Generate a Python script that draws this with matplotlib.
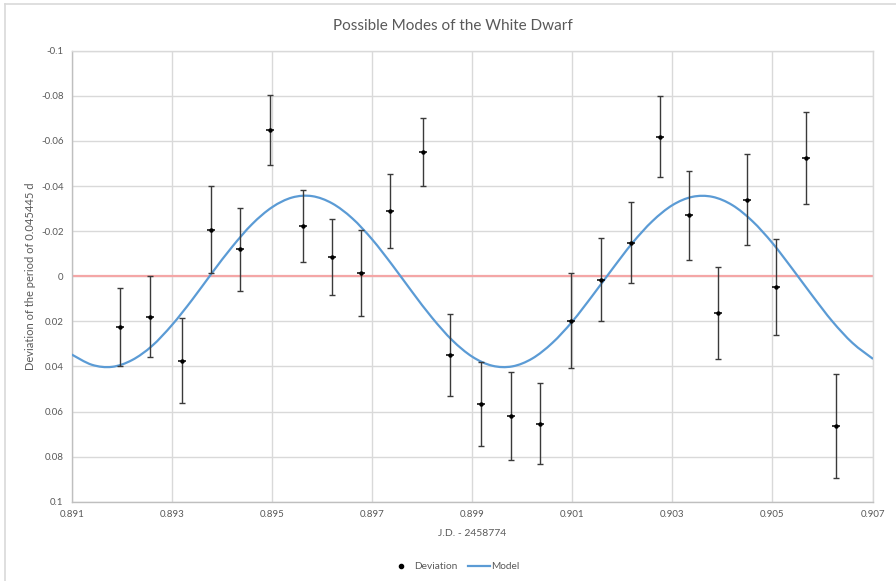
import matplotlib
matplotlib.use("Agg")
import matplotlib.pyplot as plt
from matplotlib.lines import Line2D
from matplotlib.path import Path
from matplotlib.patches import PathPatch

plt.rcParams['font.family'] = ['Lato', 'DejaVu Sans']

# ---- data ----
obs_x = [0.89195, 0.89255, 0.89320, 0.89377, 0.89435, 0.89495, 0.89561, 0.89619,
         0.89677, 0.89735, 0.89801, 0.89855, 0.89917, 0.89977, 0.90035, 0.90097,
         0.90157, 0.90217, 0.90275, 0.90334, 0.90391, 0.90450, 0.90508, 0.90567,
         0.90627]
obs_y = [0.0224, 0.0179, 0.0375, -0.0207, -0.0119, -0.0648, -0.0221, -0.0086,
         -0.0016, -0.0289, -0.0550, 0.0350, 0.0565, 0.0621, 0.0654, 0.0197,
         0.0015, -0.0148, -0.0619, -0.0270, 0.0164, -0.0339, 0.0048, -0.0524,
         0.0666]
obs_err = [0.0173, 0.0179, 0.0189, 0.0191, 0.0184, 0.0156, 0.0160, 0.0168,
           0.0191, 0.0164, 0.0151, 0.0182, 0.0186, 0.0196, 0.0180, 0.0211,
           0.0183, 0.0179, 0.0180, 0.0198, 0.0204, 0.0202, 0.0214, 0.0206,
           0.0231]

model_x = [0.8910, 0.8914, 0.8918, 0.8922, 0.8926, 0.8930, 0.8934, 0.8938,
           0.8942, 0.8946, 0.8950, 0.8954, 0.8958, 0.8962, 0.8966, 0.8970,
           0.8974, 0.8978, 0.8982, 0.8986, 0.8990, 0.8994, 0.8998, 0.9002,
           0.9006, 0.9010, 0.9014, 0.9018, 0.9022, 0.9026, 0.9030, 0.9034,
           0.9038, 0.9042, 0.9046, 0.9050, 0.9054, 0.9058, 0.9062, 0.9066,
           0.9070]
model_y = [0.0348, 0.0393, 0.0402, 0.0372, 0.0309, 0.0216, 0.0105, -0.0015,
           -0.0130, -0.0231, -0.0306, -0.0349, -0.0355, -0.0323, -0.0257, -0.0163,
           -0.0050, 0.0070, 0.0185, 0.0284, 0.0357, 0.0397, 0.0400, 0.0365,
           0.0296, 0.0201, 0.0087, -0.0032, -0.0147, -0.0244, -0.0315, -0.0352,
           -0.0352, -0.0315, -0.0244, -0.0147, -0.0032, 0.0087, 0.0201, 0.0296,
           0.0365]

x_ticks = [0.891, 0.893, 0.895, 0.897, 0.899, 0.901, 0.903, 0.905, 0.907]
x_tick_labels = ['0.891', '0.893', '0.895', '0.897', '0.899', '0.901', '0.903', '0.905', '0.907']
y_ticks = [-0.1, -0.08, -0.06, -0.04, -0.02, 0, 0.02, 0.04, 0.06, 0.08, 0.1]
y_tick_labels = ['-0.1', '-0.08', '-0.06', '-0.04', '-0.02', '0', '0.02', '0.04', '0.06', '0.08', '0.1']

title = 'Possible Modes of the White Dwarf'
x_label = 'J.D. - 2458774'
y_label = 'Deviation of the period of 0.045445 d'

W, H = 896, 581
fig = plt.figure(figsize=(W / 100, H / 100), dpi=100)
left, right, top, bottom = 72, 872.5, 50.7, 501.7
ax = fig.add_axes([left / W, 1 - bottom / H, (right - left) / W, (bottom - top) / H])

text_col = '#595959'
grid_col = '#d9d9d9'
model_col = '#5b9bd5'

ax.set_xlim(0.891, 0.907)
ax.set_ylim(0.1, -0.1)
ax.set_xticks(x_ticks)
ax.set_xticklabels(x_tick_labels)
ax.set_yticks(y_ticks)
ax.set_yticklabels(y_tick_labels)
ax.grid(True, color=grid_col, lw=1)
ax.set_axisbelow(True)
ax.tick_params(length=0, labelsize=7, colors=text_col, pad=6)
for s in ax.spines.values():
    s.set_color(grid_col)
    s.set_linewidth(1)
ax.spines['left'].set_color('#bfbfbf')
ax.spines['bottom'].set_color('#bfbfbf')

# zero line
ax.axhline(0, color='#f4a6a6', lw=1.6, zorder=2)

# model: smoothed line (Catmull-Rom Bezier through the read points, like Excel's smoothed line)
verts = [(model_x[0], model_y[0])]
codes = [Path.MOVETO]
n = len(model_x)
for i in range(n - 1):
    p0 = (model_x[max(i - 1, 0)], model_y[max(i - 1, 0)])
    p1 = (model_x[i], model_y[i])
    p2 = (model_x[i + 1], model_y[i + 1])
    p3 = (model_x[min(i + 2, n - 1)], model_y[min(i + 2, n - 1)])
    c1 = (p1[0] + (p2[0] - p0[0]) / 6, p1[1] + (p2[1] - p0[1]) / 6)
    c2 = (p2[0] - (p3[0] - p1[0]) / 6, p2[1] - (p3[1] - p1[1]) / 6)
    verts += [c1, c2, p2]
    codes += [Path.CURVE4, Path.CURVE4, Path.CURVE4]
ax.add_patch(PathPatch(Path(verts, codes), facecolor='none', edgecolor=model_col,
                       lw=1.6, zorder=3, capstyle='round', joinstyle='round'))

# deviations with error bars
ax.errorbar(obs_x, obs_y, yerr=obs_err, fmt='none', ecolor='#3a3a3a',
            elinewidth=1, capsize=2.3, capthick=1, zorder=4)
ax.plot(obs_x, obs_y, ls='none', marker='_', ms=6, mew=1.1, color='black', zorder=5)
ax.plot(obs_x, obs_y, ls='none', marker='o', ms=2.2, color='black', zorder=5)

fig.text(452.5 / W, 1 - 25.7 / H, title, ha='center', va='center', fontsize=11, color=text_col)
fig.text(472 / W, 1 - 533 / H, x_label, ha='center', va='center', fontsize=7.5, color=text_col)
fig.text(30 / W, 1 - 276 / H, y_label, ha='center', va='center', rotation=90, fontsize=8, color=text_col)

# legend
handles = [Line2D([], [], ls='none', marker='o', ms=3, color='black'),
           Line2D([], [], color=model_col, lw=1.6)]
leg = fig.legend(handles, ['Deviation', 'Model'], loc='center',
                 bbox_to_anchor=(455 / W, 1 - 566.5 / H), ncol=2, frameon=False,
                 fontsize=7.3, handlelength=2.2, columnspacing=1.0, handletextpad=0.15)
for t in leg.get_texts():
    t.set_color(text_col)

# outer chart border (top and left visible in reference)
fig.add_artist(Line2D([5 / W, 5 / W], [0, 1 - 4.3 / H], transform=fig.transFigure, color='#d9d9d9', lw=1.2))
fig.add_artist(Line2D([5 / W, 1], [1 - 4.3 / H, 1 - 4.3 / H], transform=fig.transFigure, color='#d9d9d9', lw=1.2))

fig.savefig('out.png', dpi=100, facecolor='white')
